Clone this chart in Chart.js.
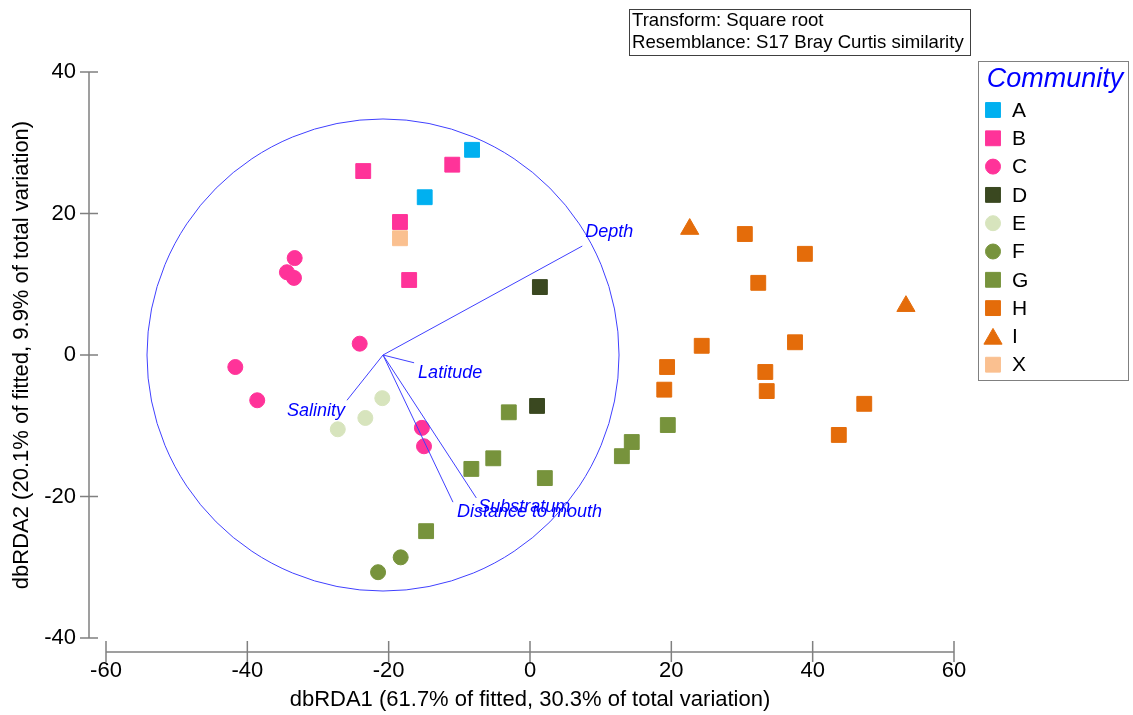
<!DOCTYPE html>
<html><head><meta charset="utf-8">
<script src="https://cdn.jsdelivr.net/npm/chart.js@4/dist/chart.umd.min.js"></script>
<style>html,body{margin:0;padding:0;background:#fff;} #wrap{width:1133px;height:715px;position:relative;}</style>
</head><body><div id="wrap"><canvas id="c" width="1133" height="715"></canvas></div>
<script>
// ---- data ----
const communities = ['A','B','C','D','E','F','G','H','I','X'];
const xA = [-8.2, -14.9];
const yA = [29.0, 22.3];
const xB = [-11.0, -23.6, -18.4, -17.1];
const yB = [26.9, 26.0, 18.8, 10.6];
const xC = [-33.3, -34.4, -33.4, -24.1, -41.7, -38.6, -15.3, -15.0];
const yC = [13.7, 11.7, 10.9, 1.6, -1.7, -6.4, -10.3, -12.9];
const xD = [1.4, 1.0];
const yD = [9.6, -7.2];
const xE = [-20.9, -23.3, -27.2];
const yE = [-6.1, -8.9, -10.5];
const xF = [-18.3, -21.5];
const yF = [-28.6, -30.7];
const xG = [-3.0, -5.2, -8.3, 2.1, -14.7, 14.4, 13.0, 19.5];
const yG = [-8.1, -14.6, -16.1, -17.4, -24.9, -12.3, -14.3, -9.9];
const xH = [30.4, 38.9, 32.3, 37.5, 24.3, 19.4, 19.0, 33.3, 33.5, 47.3, 43.7];
const yH = [17.1, 14.3, 10.2, 1.8, 1.3, -1.7, -4.9, -2.4, -5.1, -6.9, -11.3];
const xI = [22.6, 53.2];
const yI = [17.8, 6.9];
const xX = [-18.4];
const yX = [16.5];
const seriesX = {A:xA,B:xB,C:xC,D:xD,E:xE,F:xF,G:xG,H:xH,I:xI,X:xX};
const seriesY = {A:yA,B:yB,C:yC,D:yD,E:yE,F:yF,G:yG,H:yH,I:yI,X:yX};

const vectorNames = ['Depth','Latitude','Salinity','Distance to mouth','Substratum'];
const vectorEndX = [7.4, -16.4, -25.9, -10.9, -7.6];
const vectorEndY = [15.4, -1.1, -6.4, -20.8, -20.2];
const vectorOriginX = -20.8;
const vectorOriginY = 0;
const circleRadius = 33.4;

const xTicks = [-60, -40, -20, 0, 20, 40, 60];
const yTicks = [-40, -20, 0, 20, 40];

const xTitle = 'dbRDA1 (61.7% of fitted, 30.3% of total variation)';
const yTitle = 'dbRDA2 (20.1% of fitted, 9.9% of total variation)';
const infoLines = ['Transform: Square root', 'Resemblance: S17 Bray Curtis similarity'];
const legendTitle = 'Community';

// ---- styles ----
const FONT = 'Arial, "Liberation Sans", sans-serif';
const styles = {
  A:{color:'#00b0f0', shape:'rect'},
  B:{color:'#ff3399', shape:'rect'},
  C:{color:'#ff3399', shape:'circle'},
  D:{color:'#3a4820', shape:'rect'},
  E:{color:'#d7e4bd', shape:'circle'},
  F:{color:'#77933c', shape:'circle'},
  G:{color:'#77933c', shape:'rect'},
  H:{color:'#e46c0a', shape:'rect'},
  I:{color:'#e46c0a', shape:'triangle'},
  X:{color:'#fac090', shape:'rect'}
};
const radiusFor = {rect:10.5, circle:7.5, triangle:10.5};
const labelOffsets = [
  {dx:3, dy:-14, align:'left'},
  {dx:4, dy:10, align:'left'},
  {dx:-2, dy:11, align:'right'},
  {dx:4, dy:10, align:'left'},
  {dx:2, dy:9, align:'left'}
];
const VEC_COLOR = '#4040ff';

const datasets = [];
vectorNames.forEach((n, i) => {
  datasets.push({
    label: n, isVector: true,
    data: [{x: vectorOriginX, y: vectorOriginY}, {x: vectorEndX[i], y: vectorEndY[i]}],
    showLine: true, borderColor: VEC_COLOR, borderWidth: 1, pointRadius: 0, order: 0, fill: false
  });
});
communities.forEach(k => {
  const st = styles[k];
  datasets.push({
    label: k,
    data: seriesX[k].map((v, i) => ({x: v, y: seriesY[k][i]})),
    pointStyle: st.shape, pointRadius: radiusFor[st.shape],
    backgroundColor: st.color, borderColor: st.color, borderWidth: 1,
    showLine: false, order: 1
  });
});

const decor = {
  id: 'decor',
  afterDatasetsDraw(chart) {
    const ctx = chart.ctx, xs = chart.scales.x, ys = chart.scales.y;
    // circle
    const cx = xs.getPixelForValue(vectorOriginX), cy = ys.getPixelForValue(vectorOriginY);
    const r = xs.getPixelForValue(vectorOriginX + circleRadius) - cx;
    ctx.save();
    ctx.strokeStyle = VEC_COLOR; ctx.lineWidth = 1;
    ctx.beginPath(); ctx.arc(cx, cy, r, 0, Math.PI * 2); ctx.stroke();
    // vector labels
    ctx.fillStyle = '#0000ff';
    ctx.font = 'italic 18px ' + FONT;
    ctx.textBaseline = 'middle';
    vectorNames.forEach((n, i) => {
      const px = xs.getPixelForValue(vectorEndX[i]), py = ys.getPixelForValue(vectorEndY[i]);
      const o = labelOffsets[i];
      ctx.textAlign = o.align;
      ctx.fillText(n, px + o.dx, py + o.dy);
    });
    ctx.restore();
  },
  afterDraw(chart) {
    const ctx = chart.ctx, xs = chart.scales.x, ys = chart.scales.y, ca = chart.chartArea;
    ctx.save();
    // axes
    ctx.strokeStyle = '#808080'; ctx.lineWidth = 1.5;
    const axX = ca.left - 17, axY = ca.bottom + 14;
    ctx.beginPath();
    ctx.moveTo(axX, ys.getPixelForValue(yTicks[yTicks.length - 1]));
    ctx.lineTo(axX, ys.getPixelForValue(yTicks[0]));
    yTicks.forEach(v => { const p = ys.getPixelForValue(v); ctx.moveTo(axX - 9, p); ctx.lineTo(axX + 9, p); });
    ctx.moveTo(xs.getPixelForValue(xTicks[0]), axY);
    ctx.lineTo(xs.getPixelForValue(xTicks[xTicks.length - 1]), axY);
    xTicks.forEach(v => { const p = xs.getPixelForValue(v); ctx.moveTo(p, axY - 11); ctx.lineTo(p, axY + 10); });
    ctx.stroke();
    // info box
    ctx.strokeStyle = '#404040'; ctx.lineWidth = 1;
    ctx.strokeRect(629.5, 9.5, 341, 46);
    ctx.fillStyle = '#000'; ctx.font = '18.6px ' + FONT;
    ctx.textAlign = 'left'; ctx.textBaseline = 'middle';
    ctx.fillText(infoLines[0], 632, 21);
    ctx.fillText(infoLines[1], 632, 43);
    // legend
    ctx.strokeStyle = '#808080';
    ctx.strokeRect(978.5, 61.5, 150, 319);
    ctx.fillStyle = '#0000ff'; ctx.font = 'italic 27px ' + FONT; ctx.textAlign = 'center';
    ctx.fillText(legendTitle, 1055, 79);
    ctx.font = '21px ' + FONT; ctx.textAlign = 'left';
    communities.forEach((k, i) => {
      const st = styles[k];
      const y = 110 + i * 28.3;
      ctx.fillStyle = st.color; ctx.strokeStyle = st.color; ctx.lineWidth = 1;
      const my = st.shape === 'triangle' ? y + 2.5 : y;
      Chart.helpers.drawPoint(ctx, {pointStyle: st.shape, radius: radiusFor[st.shape], borderWidth: 1}, 993, my);
      ctx.fillStyle = '#000';
      ctx.fillText(k, 1012, y + 1);
    });
    ctx.restore();
  }
};

new Chart(document.getElementById('c'), {
  type: 'scatter',
  data: {datasets},
  options: {
    responsive: false, animation: false, devicePixelRatio: 1,
    layout: {padding: {left: 0, right: 179, top: 72, bottom: 0}},
    plugins: {legend: {display: false}, tooltip: {enabled: false}},
    scales: {
      x: {
        type: 'linear', min: -60, max: 60,
        afterBuildTicks: s => { s.ticks = xTicks.map(v => ({value: v})); },
        afterFit: s => { s.height = 77; },
        grid: {display: false, drawTicks: false}, border: {display: false},
        ticks: {padding: 20, color: '#000', font: {size: 22, family: FONT}},
        title: {display: true, text: xTitle, color: '#000', font: {size: 22, family: FONT}, padding: {top: 0, bottom: 2}}
      },
      y: {
        type: 'linear', min: -40, max: 40,
        afterBuildTicks: s => { s.ticks = yTicks.map(v => ({value: v})); },
        afterFit: s => { s.width = 106; },
        grid: {display: false, drawTicks: false}, border: {display: false},
        ticks: {padding: 30, color: '#000', font: {size: 22, family: FONT}},
        title: {display: true, text: yTitle, color: '#000', font: {size: 22, family: FONT}, padding: {top: 9, bottom: 0}}
      }
    }
  },
  plugins: [decor]
});
</script></body></html>
